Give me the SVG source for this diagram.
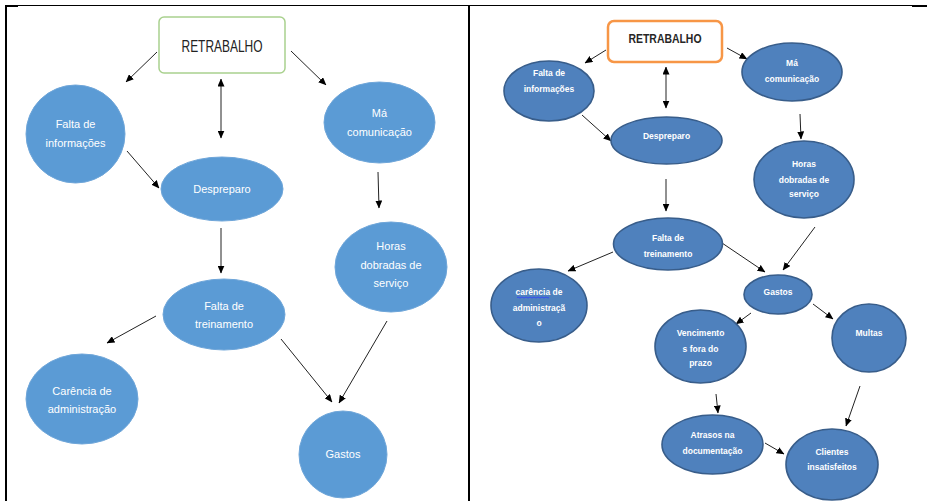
<svg xmlns="http://www.w3.org/2000/svg" width="927" height="501" viewBox="0 0 927 501">
<defs>
<style>
.frame{stroke:#000;fill:none}
.e1{fill:#5b9bd5;stroke:#6fa6d9;stroke-width:1}
.e2{fill:#4f81bd;stroke:#385d8a;stroke-width:1.6}
.t1{font-family:"Liberation Sans Narrow","Liberation Sans",Arial,sans-serif;font-size:11px;fill:#fff;text-anchor:middle;dominant-baseline:central}
.t2{font-family:"Liberation Sans Narrow","Liberation Sans",Arial,sans-serif;font-size:8.5px;font-weight:bold;fill:#fff;text-anchor:middle;dominant-baseline:central}
.c line{stroke:#222;stroke-width:1;marker-end:url(#ah)}
.c line.d{marker-start:url(#ah)}
</style>
<marker id="ah" markerWidth="8" markerHeight="7" refX="7.5" refY="3.5" orient="auto-start-reverse" markerUnits="userSpaceOnUse">
<path d="M0,0 L8,3.5 L0,7 Z" fill="#000"/>
</marker>
</defs>
<rect width="927" height="501" fill="#fff"/>
<g id="frame">
<line class="frame" x1="6" y1="5.5" x2="927" y2="5.5" stroke-width="1"/>
<line class="frame" x1="6" y1="5" x2="6" y2="501" stroke-width="2"/>
<line class="frame" x1="469" y1="5" x2="469" y2="501" stroke-width="2"/>
<line class="frame" x1="5" y1="6" x2="18" y2="6" stroke-width="2"/>
<line class="frame" x1="912" y1="6" x2="927" y2="6" stroke-width="2"/>
</g>
<g class="c" id="connectors">
<line x1="157" y1="52" x2="126" y2="82"/>
<line x1="291" y1="51" x2="326" y2="85"/>
<line class="d" x1="221" y1="79" x2="221" y2="138"/>
<line x1="127" y1="151" x2="159" y2="188"/>
<line x1="221" y1="228" x2="221" y2="273"/>
<line x1="378" y1="172" x2="379" y2="208"/>
<line x1="156" y1="316" x2="107" y2="343"/>
<line x1="281" y1="339" x2="332" y2="402"/>
<line x1="387" y1="321" x2="339" y2="403"/>
<line x1="606" y1="50" x2="585" y2="63"/>
<line x1="727" y1="48" x2="747" y2="59"/>
<line class="d" x1="666" y1="67" x2="666" y2="108"/>
<line x1="582" y1="115" x2="611" y2="141"/>
<line x1="666" y1="179" x2="666" y2="211"/>
<line x1="800" y1="114" x2="801" y2="139"/>
<line x1="815" y1="227" x2="783" y2="270"/>
<line x1="722" y1="243" x2="765" y2="272"/>
<line x1="613" y1="252" x2="568" y2="271"/>
<line x1="751" y1="313" x2="736" y2="324"/>
<line x1="813" y1="304" x2="833" y2="319"/>
<line x1="716" y1="394" x2="718" y2="413"/>
<line x1="860" y1="386" x2="846" y2="426"/>
<line x1="765" y1="443" x2="784" y2="454"/>
</g>
<g id="l-retrabalho">
<rect x="159" y="17" width="126" height="56" rx="5" fill="#fff" stroke="#a9d18e" stroke-width="1.5"/>
<text x="222" y="46" font-family="'Liberation Sans',Arial,sans-serif" font-size="16" fill="#222" text-anchor="middle" dominant-baseline="central" textLength="81" lengthAdjust="spacingAndGlyphs">RETRABALHO</text>
</g>
<g id="l-falta-info">
<ellipse class="e1" cx="75.5" cy="134" rx="49.5" ry="49"/>
<text class="t1" x="75.5" y="124">Falta de</text>
<text class="t1" x="75.5" y="143">informações</text>
</g>
<g id="l-despreparo">
<ellipse class="e1" cx="222" cy="189" rx="61" ry="32"/>
<text class="t1" x="222" y="189">Despreparo</text>
</g>
<g id="l-ma-comunicacao">
<ellipse class="e1" cx="379.5" cy="122.5" rx="55.5" ry="40.5"/>
<text class="t1" x="379.5" y="113">Má</text>
<text class="t1" x="379.5" y="132">comunicação</text>
</g>
<g id="l-horas">
<ellipse class="e1" cx="391" cy="267" rx="56" ry="45"/>
<text class="t1" x="391" y="246">Horas</text>
<text class="t1" x="391" y="265">dobradas de</text>
<text class="t1" x="391" y="283">serviço</text>
</g>
<g id="l-falta-treinamento">
<ellipse class="e1" cx="224" cy="314.5" rx="61" ry="35.5"/>
<text class="t1" x="224" y="306">Falta de</text>
<text class="t1" x="224" y="324">treinamento</text>
</g>
<g id="l-carencia">
<ellipse class="e1" cx="82" cy="399" rx="56" ry="45"/>
<text class="t1" x="82" y="391">Carência de</text>
<text class="t1" x="82" y="409">administração</text>
</g>
<g id="l-gastos">
<ellipse class="e1" cx="343" cy="454.5" rx="44" ry="43.5"/>
<text class="t1" x="343" y="454">Gastos</text>
</g>
<g id="r-retrabalho">
<rect x="608" y="21" width="114" height="41" rx="6" fill="#fff" stroke="#f79646" stroke-width="2.5"/>
<text x="665" y="39" font-family="'Liberation Sans',Arial,sans-serif" font-size="12.5" font-weight="bold" fill="#262626" text-anchor="middle" dominant-baseline="central" textLength="73" lengthAdjust="spacingAndGlyphs">RETRABALHO</text>
</g>
<g id="r-falta-info">
<ellipse class="e2" cx="549" cy="91" rx="45" ry="30"/>
<text class="t2" x="549" y="73">Falta de</text>
<text class="t2" x="549" y="89">informações</text>
</g>
<g id="r-ma-comunicacao">
<ellipse class="e2" cx="792" cy="72" rx="50" ry="29"/>
<text class="t2" x="792" y="63">Má</text>
<text class="t2" x="792" y="79">comunicação</text>
</g>
<g id="r-despreparo">
<ellipse class="e2" cx="666.5" cy="140.5" rx="55.5" ry="23.5"/>
<text class="t2" x="666.5" y="136">Despreparo</text>
</g>
<g id="r-horas">
<ellipse class="e2" cx="804" cy="179.5" rx="50" ry="38.5"/>
<text class="t2" x="804" y="164">Horas</text>
<text class="t2" x="804" y="180">dobradas de</text>
<text class="t2" x="804" y="194">serviço</text>
</g>
<g id="r-falta-treinamento">
<ellipse class="e2" cx="668" cy="244" rx="54.5" ry="26"/>
<text class="t2" x="668" y="238">Falta de</text>
<text class="t2" x="668" y="254">treinamento</text>
</g>
<g id="r-carencia">
<ellipse class="e2" cx="539" cy="305.5" rx="48" ry="36.5"/>
<text class="t2" x="539" y="292">carência de</text>
<text class="t2" x="539" y="308">administraçã</text>
<text class="t2" x="539" y="323">o</text>
<path d="M517,297.5 q1,-1 2,0 t2,0 t2,0 t2,0 t2,0 t2,0 t2,0 t2,0 t2,0 t2,0 t2,0 t2,0 t2,0 t2,0 t2,0 t2,0" fill="none" stroke="#2f3fff" stroke-width="0.8"/>
</g>
<g id="r-gastos">
<ellipse class="e2" cx="778" cy="294.5" rx="34" ry="19.5"/>
<text class="t2" x="778" y="292">Gastos</text>
</g>
<g id="r-vencimentos">
<ellipse class="e2" cx="700.5" cy="346.5" rx="45.5" ry="36.5"/>
<text class="t2" x="700.5" y="333">Vencimento</text>
<text class="t2" x="700.5" y="349">s fora do</text>
<text class="t2" x="700.5" y="363">prazo</text>
</g>
<g id="r-multas">
<ellipse class="e2" cx="869" cy="338" rx="37" ry="34"/>
<text class="t2" x="869" y="333">Multas</text>
</g>
<g id="r-atrasos">
<ellipse class="e2" cx="712.5" cy="444.5" rx="50.5" ry="29.5"/>
<text class="t2" x="712.5" y="435">Atrasos na</text>
<text class="t2" x="712.5" y="451">documentação</text>
</g>
<g id="r-clientes">
<ellipse class="e2" cx="832" cy="464.5" rx="46" ry="35.5"/>
<text class="t2" x="832" y="452">Clientes</text>
<text class="t2" x="832" y="467">insatisfeitos</text>
</g>
</svg>
